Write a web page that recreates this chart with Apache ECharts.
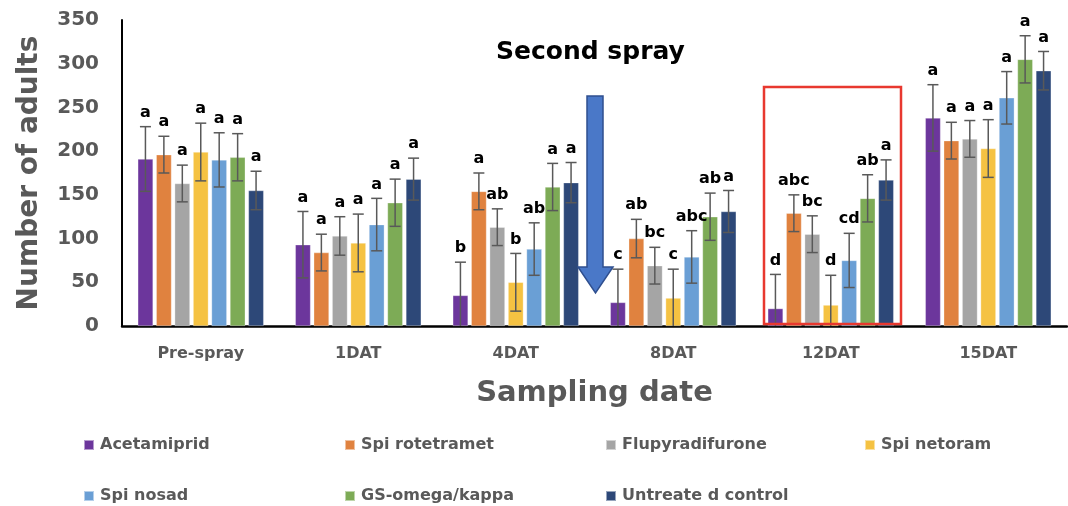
<!DOCTYPE html>
<html>
<head>
<meta charset="utf-8">
<script src="https://cdn.jsdelivr.net/npm/echarts@6/dist/echarts.min.js"></script>
<style>html,body{margin:0;padding:0;background:#fff}#c{width:1068px;height:506px}</style>
</head>
<body>
<div id="c"></div>
<script>
const categories = ['Pre-spray', '1DAT', '4DAT', '8DAT', '12DAT', '15DAT'];
const yTicks = [0, 50, 100, 150, 200, 250, 300, 350];
const treatments = ['Acetamiprid', 'Spi rotetramet', 'Flupyradifurone', 'Spi netoram', 'Spi nosad', 'GS-omega/kappa', 'Untreate d control'];
const colors = ['#6C369C', '#E0823F', '#A5A5A5', '#F5C242', '#6A9FD5', '#7DAB56', '#2D4878'];

const acetamiprid     = [191, 93, 35, 27, 20, 238];
const spirotetramet   = [196, 84, 154, 100, 129, 212];
const flupyradifurone = [163, 103, 113, 69, 105, 214];
const spinetoram      = [199, 95, 50, 32, 24, 203];
const spinosad        = [190, 116, 88, 79, 75, 261];
const gsOmegaKappa    = [193, 141, 159, 125, 146, 305];
const control         = [155, 168, 164, 131, 167, 292];

const errAcetamiprid     = [37, 38, 38, 38, 39, 38];
const errSpirotetramet   = [21, 21, 21, 22, 21, 21];
const errFlupyradifurone = [21, 22, 21, 21, 21, 21];
const errSpinetoram      = [33, 33, 33, 33, 34, 33];
const errSpinosad        = [31, 30, 30, 30, 31, 30];
const errGsOmegaKappa    = [27, 27, 27, 27, 27, 27];
const errControl         = [22, 24, 23, 24, 23, 22];

const letAcetamiprid     = ['a', 'a', 'b', 'c', 'd', 'a'];
const letSpirotetramet   = ['a', 'a', 'a', 'ab', 'abc', 'a'];
const letFlupyradifurone = ['a', 'a', 'ab', 'bc', 'bc', 'a'];
const letSpinetoram      = ['a', 'a', 'b', 'c', 'd', 'a'];
const letSpinosad        = ['a', 'a', 'ab', 'abc', 'cd', 'a'];
const letGsOmegaKappa    = ['a', 'a', 'a', 'ab', 'ab', 'a'];
const letControl         = ['a', 'a', 'a', 'a', 'a', 'a'];

const means = [acetamiprid, spirotetramet, flupyradifurone, spinetoram, spinosad, gsOmegaKappa, control];
const errs = [errAcetamiprid, errSpirotetramet, errFlupyradifurone, errSpinetoram, errSpinosad, errGsOmegaKappa, errControl];
const letters = [letAcetamiprid, letSpirotetramet, letFlupyradifurone, letSpinetoram, letSpinosad, letGsOmegaKappa, letControl];

const FONT = 'DejaVu Sans';
const GRAY = '#595959';
const N = treatments.length;
const CAT_GAP = 0.2, BAR_GAP = 0.2;

const chart = echarts.init(document.getElementById('c'), null, {renderer: 'canvas'});

const series = [];
treatments.forEach((name, s) => {
  series.push({
    name: name, type: 'bar', data: means[s],
    barCategoryGap: '20%', barGap: '20%',
    itemStyle: {color: colors[s], borderColor: 'rgba(255,255,255,0.5)', borderWidth: 0.6},
    z: 2
  });
});
treatments.forEach((name, s) => {
  series.push({
    name: 'err-' + s, type: 'custom',
    data: means[s].map((m, i) => [i, m, errs[s][i]]),
    encode: {x: 0, y: 1},
    z: 5, silent: true, clip: false,
    renderItem: function (params, api) {
      const idx = api.value(0), m = api.value(1), e = api.value(2);
      const band = api.size([1, 0])[0];
      const w = band * (1 - CAT_GAP) / (N + (N - 1) * BAR_GAP);
      const off = -band * (1 - CAT_GAP) / 2 + w / 2 + s * w * (1 + BAR_GAP);
      const top = api.coord([idx, m + e]);
      const lowVal = Math.max(0, m - e);
      const bot = api.coord([idx, lowVal]);
      const x = top[0] + off;
      const cap = 5.5;
      const style = {stroke: GRAY, lineWidth: 1.5};
      const children = [
        {type: 'line', shape: {x1: x, y1: top[1], x2: x, y2: bot[1]}, style: style},
        {type: 'line', shape: {x1: x - cap, y1: top[1], x2: x + cap, y2: top[1]}, style: style},
        {type: 'text', style: {text: letters[s][params.dataIndex], x: x, y: top[1] - 14,
          align: 'center', verticalAlign: 'middle', fill: '#000', font: 'bold 16px "' + FONT + '"'}}
      ];
      if (m - e > 0) children.push({type: 'line', shape: {x1: x - cap, y1: bot[1], x2: x + cap, y2: bot[1]}, style: style});
      return {type: 'group', children: children};
    }
  });
});

const legendLeft = [83, 344, 605, 864, 83, 344, 605];
const legendTop = [437, 437, 437, 437, 488, 488, 488];
const legends = treatments.map((name, s) => ({
  data: [name], left: legendLeft[s], top: legendTop[s], padding: 0,
  icon: 'rect', itemWidth: 10, itemHeight: 10, itemGap: 0, selectedMode: false,
  textStyle: {fontFamily: FONT, fontWeight: 'bold', fontSize: 16, color: GRAY, padding: [0, 0, 0, 1]}
}));

const option = {
  animation: false,
  backgroundColor: '#fff',
  grid: {left: 122, right: 1, top: 20, bottom: 180, containLabel: false},
  legend: legends,
  xAxis: {
    type: 'category', data: categories,
    axisLine: {lineStyle: {color: '#000', width: 2.5}},
    axisTick: {show: false},
    axisLabel: {fontFamily: FONT, fontWeight: 'bold', fontSize: 16, color: GRAY, margin: 20},
    name: 'Sampling date', nameLocation: 'middle', nameGap: 53,
    nameTextStyle: {fontFamily: FONT, fontWeight: 'bold', fontSize: 29, color: GRAY}
  },
  yAxis: {
    type: 'value', min: yTicks[0], max: yTicks[yTicks.length - 1], interval: 50,
    splitLine: {show: false},
    axisLine: {show: true, lineStyle: {color: '#000', width: 2}},
    axisTick: {show: false},
    axisLabel: {fontFamily: FONT, fontWeight: 'bold', fontSize: 20, color: GRAY, margin: 23},
    name: 'Number of adults', nameLocation: 'middle', nameGap: 78, nameRotate: 90,
    nameTextStyle: {fontFamily: FONT, fontWeight: 'bold', fontSize: 28, color: GRAY}
  },
  graphic: [
    {type: 'text', left: 496, top: 40, style: {text: 'Second spray', fill: '#000', font: 'bold 25px "' + FONT + '"'}},
    {type: 'polygon', shape: {points: [[587, 96], [603, 96], [603, 267], [613, 267], [595.5, 293], [578, 267], [587, 267]]},
     style: {fill: '#4A78C8', stroke: '#2F4F8F', lineWidth: 1.5}, z: 10},
    {type: 'rect', shape: {x: 764, y: 87, width: 137, height: 237},
     style: {fill: 'none', stroke: '#E8382F', lineWidth: 2.5}, z: 10}
  ],
  series: series
};
chart.setOption(option);
</script>
</body>
</html>
